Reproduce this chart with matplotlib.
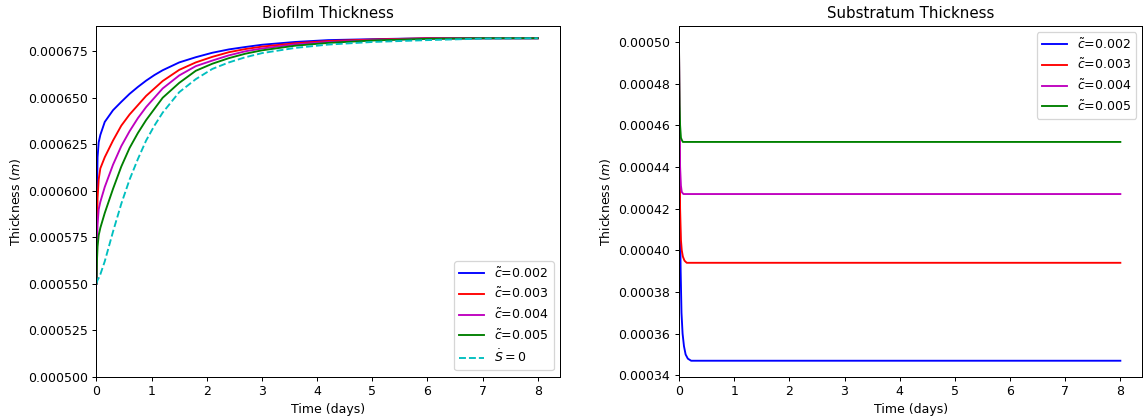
import matplotlib
matplotlib.use('Agg')
import matplotlib.pyplot as plt

# biofilm thickness over time (days)
t_bio = [0, 0.01, 0.02, 0.04, 0.07, 0.15, 0.3, 0.45, 0.6, 0.75, 0.9, 1.05, 1.2, 1.5,
         1.8, 2.1, 2.4, 2.7, 3.0, 3.6, 4.2, 5.0, 6.0, 7.0, 8.0]
bio_c2 = [0.000550, 0.000600, 0.000618, 0.000626, 0.000630, 0.000637, 0.0006433, 0.0006478,
          0.0006521, 0.0006558, 0.0006592, 0.0006622, 0.0006648, 0.000669, 0.0006718,
          0.0006742, 0.000676, 0.0006773, 0.0006785, 0.000680, 0.000681, 0.0006815,
          0.000682, 0.000682, 0.000682]
bio_c3 = [0.000550, 0.000580, 0.000596, 0.000606, 0.000612, 0.000618, 0.000627, 0.000635,
          0.000641, 0.000646, 0.000651, 0.000655, 0.000659, 0.000665, 0.000669, 0.000672,
          0.0006745, 0.0006762, 0.0006775, 0.0006793, 0.0006805, 0.0006813, 0.000682,
          0.000682, 0.000682]
bio_c4 = [0.000550, 0.000572, 0.000582, 0.000590, 0.000594, 0.000602, 0.000614, 0.000624,
          0.000632, 0.000639, 0.000645, 0.000650, 0.000655, 0.000662, 0.000667, 0.000670,
          0.0006728, 0.000675, 0.0006765, 0.0006787, 0.000680, 0.000681, 0.0006818,
          0.000682, 0.000682]
bio_c5 = [0.000550, 0.000563, 0.000570, 0.000576, 0.000580, 0.000588, 0.000601, 0.000613,
          0.000623, 0.000631, 0.000638, 0.000644, 0.000650, 0.000658, 0.0006645, 0.0006683,
          0.0006713, 0.0006737, 0.0006755, 0.000678, 0.0006795, 0.0006808, 0.0006817,
          0.000682, 0.000682]
bio_s0 = [0.000550, 0.000551, 0.000552, 0.000553, 0.000555, 0.000562, 0.000578, 0.000593,
          0.000606, 0.000617, 0.000627, 0.000635, 0.000642, 0.000653, 0.000660, 0.0006655,
          0.000669, 0.0006718, 0.000674, 0.0006768, 0.0006786, 0.000680, 0.000681,
          0.0006818, 0.000682]

# substratum thickness, one time base per run
t_sub_c2 = [0, 0.005, 0.01, 0.02, 0.03, 0.045, 0.065, 0.09, 0.12, 0.16, 0.22, 8.0]
sub_c2 = [0.000500, 0.000470, 0.000440, 0.000410, 0.000390, 0.000370, 0.000360, 0.000354,
          0.000350, 0.000348, 0.000347, 0.000347]
t_sub_c3 = [0, 0.005, 0.01, 0.02, 0.035, 0.05, 0.07, 0.1, 0.14, 8.0]
sub_c3 = [0.000500, 0.000475, 0.000450, 0.000420, 0.000405, 0.000400, 0.000397, 0.000395,
          0.000394, 0.000394]
t_sub_c4 = [0, 0.005, 0.01, 0.02, 0.035, 0.05, 0.08, 8.0]
sub_c4 = [0.000500, 0.000478, 0.000460, 0.000440, 0.000431, 0.000428, 0.000427, 0.000427]
t_sub_c5 = [0, 0.005, 0.01, 0.02, 0.035, 0.05, 0.07, 8.0]
sub_c5 = [0.000500, 0.000482, 0.000470, 0.000460, 0.000454, 0.000453, 0.000452, 0.000452]

labels = [r'$\tilde{c}$=0.002', r'$\tilde{c}$=0.003', r'$\tilde{c}$=0.004', r'$\tilde{c}$=0.005']
colors = ['b', 'r', 'm', 'g']

fig, (ax1, ax2) = plt.subplots(1, 2, figsize=(1143 / 90, 419 / 90), dpi=90)
plt.subplots_adjust(left=0.0844, right=0.9995, top=0.938, bottom=0.101, wspace=0.257)

for y, col, lab in zip([bio_c2, bio_c3, bio_c4, bio_c5], colors, labels):
    ax1.plot(t_bio, y, col, label=lab)
ax1.plot(t_bio, bio_s0, 'c--', label=r'$\dot{S}=0$')
ax1.set_xlim(left=0)
ax1.set_ylim(bottom=0.0005)
ax1.set_title('Biofilm Thickness')
ax1.set_xlabel('Time (days)')
ax1.set_ylabel('Thickness ($m$)')
ax1.legend(loc='lower right')

for t, y, col, lab in zip([t_sub_c2, t_sub_c3, t_sub_c4, t_sub_c5],
                          [sub_c2, sub_c3, sub_c4, sub_c5], colors, labels):
    ax2.plot(t, y, col, label=lab)
ax2.set_xlim(left=0)
ax2.set_title('Substratum Thickness')
ax2.set_xlabel('Time (days)')
ax2.set_ylabel('Thickness ($m$)')
ax2.legend(loc='upper right')

plt.savefig('out.png', dpi=90)
